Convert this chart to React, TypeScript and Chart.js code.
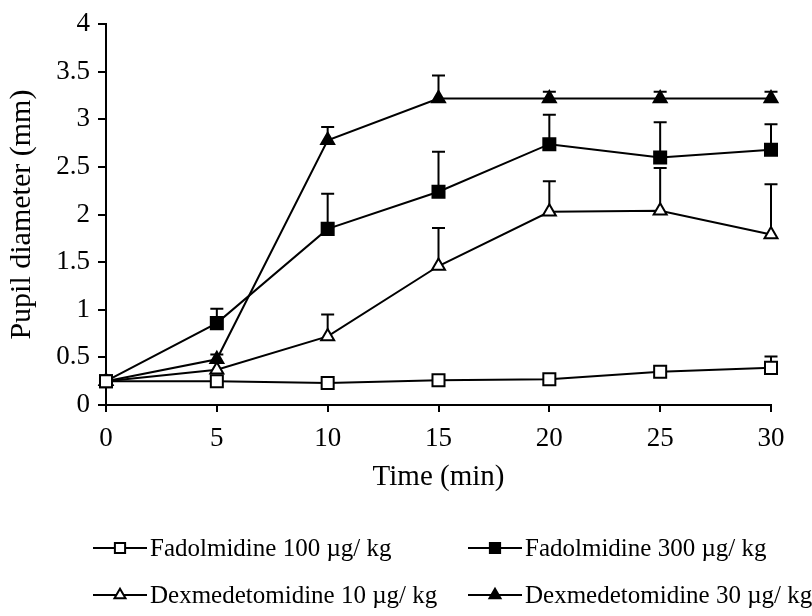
import React, { useEffect, useRef } from "react";
import { Chart, registerables } from "chart.js";

Chart.register(...registerables);

const times = [0, 5, 10, 15, 20, 25, 30];
const xTickValues = [0, 5, 10, 15, 20, 25, 30];
const yTickValues = [0, 0.5, 1, 1.5, 2, 2.5, 3, 3.5, 4];

const seriesLabels = [
  "Fadolmidine 100 \u00b5g/ kg",
  "Fadolmidine 300 \u00b5g/ kg",
  "Dexmedetomidine 10 \u00b5g/ kg",
  "Dexmedetomidine 30 \u00b5g/ kg",
];

const fad100 = [0.25, 0.25, 0.23, 0.26, 0.27, 0.35, 0.39];
const fad100Err = [0, 0, 0, 0, 0, 0, 0.12];
const fad300 = [0.25, 0.86, 1.85, 2.24, 2.74, 2.6, 2.68];
const fad300Err = [0, 0.15, 0.37, 0.42, 0.31, 0.37, 0.27];
const dex10 = [0.25, 0.37, 0.72, 1.46, 2.03, 2.04, 1.79];
const dex10Err = [0, 0, 0.23, 0.4, 0.32, 0.45, 0.53];
const dex30 = [0.25, 0.48, 2.78, 3.22, 3.22, 3.22, 3.22];
const dex30Err = [0, 0.05, 0.14, 0.24, 0.07, 0.07, 0.07];

const FONT = "'Liberation Serif', 'Times New Roman', serif";

const errorBarPlugin = {
  id: "errorBars",
  beforeDatasetsDraw(chart: any) {
    const ctx = chart.ctx;
    const xs = chart.scales.x;
    const ys = chart.scales.y;
    ctx.save();
    ctx.strokeStyle = "#000";
    ctx.lineWidth = 2;
    chart.data.datasets.forEach((ds: any) => {
      const errs: number[] = ds.errors || [];
      ds.data.forEach((pt: any, i: number) => {
        const e = errs[i];
        if (!e) return;
        const x = xs.getPixelForValue(pt.x);
        const y0 = ys.getPixelForValue(pt.y);
        const y1 = ys.getPixelForValue(pt.y + e);
        ctx.beginPath();
        ctx.moveTo(x, y0);
        ctx.lineTo(x, y1);
        ctx.moveTo(x - 6.5, y1);
        ctx.lineTo(x + 6.5, y1);
        ctx.stroke();
      });
    });
    ctx.restore();
  },
};

function drawMarker(ctx: any, style: string, x: number, y: number, r: number, fill: string) {
  ctx.beginPath();
  if (style === "rect") {
    const s = Math.SQRT1_2 * r;
    ctx.rect(x - s, y - s, 2 * s, 2 * s);
  } else {
    const h = r * Math.sqrt(3) / 2;
    ctx.moveTo(x, y - r);
    ctx.lineTo(x + h, y + r / 2);
    ctx.lineTo(x - h, y + r / 2);
    ctx.closePath();
  }
  ctx.fillStyle = fill;
  ctx.fill();
  ctx.stroke();
}

const legendPlugin = {
  id: "gridLegend",
  afterDraw(chart: any) {
    const ctx = chart.ctx;
    const colX = [93, 468];
    const rowY = [548, 595];
    ctx.save();
    chart.data.datasets.forEach((ds: any, i: number) => {
      const x0 = colX[i % 2];
      const y = rowY[Math.floor(i / 2)];
      ctx.strokeStyle = "#000";
      ctx.lineWidth = 2;
      ctx.beginPath();
      ctx.moveTo(x0, y);
      ctx.lineTo(x0 + 54, y);
      ctx.stroke();
      drawMarker(ctx, ds.pointStyle, x0 + 27, y, ds.pointRadius * 0.85, ds.pointBackgroundColor);
      ctx.fillStyle = "#000";
      ctx.font = `25px ${FONT}`;
      ctx.textBaseline = "middle";
      ctx.textAlign = "left";
      ctx.fillText(ds.label, x0 + 57, y + 1);
    });
    ctx.restore();
  },
};

function makeDs(label: string, vals: number[], errs: number[], style: string, filled: boolean) {
  return {
    label,
    data: times.map((t, i) => ({ x: t, y: vals[i] })),
    errors: errs,
    borderColor: "#000",
    borderWidth: 2,
    pointStyle: style,
    pointRadius: style === "rect" ? 8.5 : 7.5,
    pointBackgroundColor: filled ? "#000" : "#fff",
    pointBorderColor: "#000",
    pointBorderWidth: 2,
    tension: 0,
    clip: false as any,
    fill: false,
  };
}

export default function App() {
  const ref = useRef<HTMLCanvasElement | null>(null);
  useEffect(() => {
    if (!ref.current) return;
    const chart = new Chart(ref.current, {
      type: "line",
      data: {
        datasets: [
          makeDs(seriesLabels[0], fad100, fad100Err, "rect", false),
          makeDs(seriesLabels[1], fad300, fad300Err, "rect", true),
          makeDs(seriesLabels[2], dex10, dex10Err, "triangle", false),
          makeDs(seriesLabels[3], dex30, dex30Err, "triangle", true),
        ] as any,
      },
      options: {
        animation: false,
        responsive: false,
        devicePixelRatio: 1,
        layout: { padding: { top: 17, right: 41, left: 0, bottom: 117 } },
        plugins: { legend: { display: false }, tooltip: { enabled: false } },
        scales: {
          x: {
            type: "linear",
            min: 0,
            max: 30,
            afterBuildTicks: (s: any) => {
              s.ticks = xTickValues.map((v) => ({ value: v }));
            },
            afterFit: (s: any) => {
              s.height = 94;
            },
            grid: { drawOnChartArea: false, drawTicks: true, tickLength: 7, color: "#000", lineWidth: 2 },
            border: { display: true, color: "#000", width: 2 },
            ticks: {
              color: "#000",
              font: { family: FONT, size: 27 },
              padding: 11,
              maxRotation: 0,
              callback: (v: any) => String(v),
            },
            title: {
              display: true,
              text: "Time (min)",
              color: "#000",
              font: { family: FONT, size: 29 },
              padding: { top: 4, bottom: 4 },
            },
          },
          y: {
            type: "linear",
            min: 0,
            max: 4,
            afterBuildTicks: (s: any) => {
              s.ticks = yTickValues.map((v) => ({ value: v }));
            },
            afterFit: (s: any) => {
              s.width = 106;
            },
            grid: { drawOnChartArea: false, drawTicks: true, tickLength: 8, color: "#000", lineWidth: 2 },
            border: { display: true, color: "#000", width: 2 },
            ticks: {
              color: "#000",
              font: { family: FONT, size: 27 },
              padding: 8,
              callback: (v: any) => String(v),
            },
            title: {
              display: true,
              text: "Pupil diameter (mm)",
              color: "#000",
              font: { family: FONT, size: 30 },
              padding: { top: 4, bottom: 0 },
            },
          },
        },
      },
      plugins: [errorBarPlugin, legendPlugin],
    } as any);
    return () => chart.destroy();
  }, []);
  return (
    <div style={{ position: "fixed", left: 0, top: 0, width: 812, height: 616, background: "#fff" }}>
      <canvas ref={ref} width={812} height={616} style={{ display: "block" }} />
    </div>
  );
}
